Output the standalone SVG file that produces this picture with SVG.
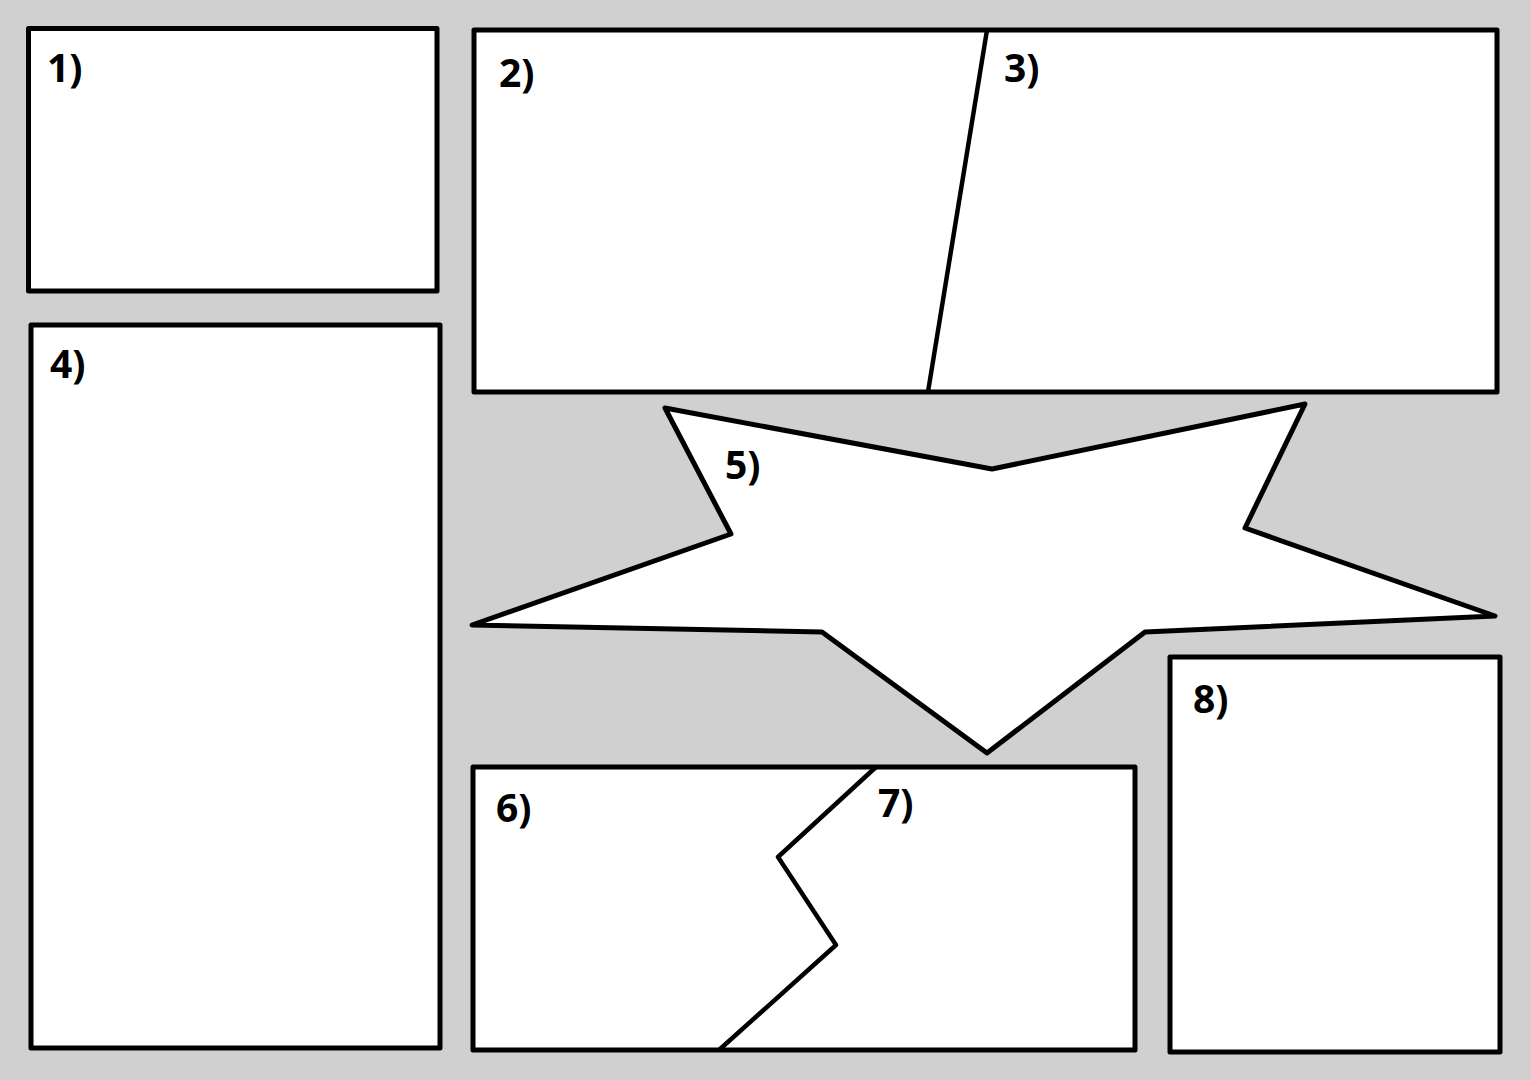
<svg xmlns="http://www.w3.org/2000/svg" width="1531" height="1080" viewBox="0 0 1531 1080">
<style>
.p{fill:#fff;stroke:#000;stroke-width:5;stroke-linejoin:round}
.l{fill:none;stroke:#000;stroke-width:4.5;stroke-linejoin:round}
.t{font-family:"Open Sans","Liberation Sans",sans-serif;font-weight:bold;font-size:39px;fill:#000}
</style>
<rect width="1531" height="1080" fill="#d0d0d0"/>
<g id="panel1"><rect class="p" x="28.5" y="28.5" width="408.5" height="262.5"/><text class="t" x="47" y="82">1)</text></g>
<g id="panel23"><rect class="p" x="474" y="30" width="1023" height="362"/></g>
<g id="panel2"><text class="t" x="499" y="87">2)</text></g>
<g id="panel3"><text class="t" x="1004" y="82">3)</text></g>
<g id="panel4"><rect class="p" x="31" y="325" width="409" height="723"/><text class="t" x="50" y="378">4)</text></g>
<g id="panel5"><polygon class="p" stroke-width="4.5" points="665,408 992,469 1305,404 1245,528 1495,616 1145,632 987,753 822,632 472,625 731,534"/><text class="t" x="725" y="479">5)</text></g>
<g id="panel67"><rect class="p" x="473" y="767" width="662" height="283"/></g>
<g id="panel6"><text class="t" x="496" y="822">6)</text></g>
<g id="panel7"><text class="t" x="878" y="817">7)</text></g>
<g id="panel8"><rect class="p" x="1170" y="657" width="330" height="395"/><text class="t" x="1193" y="713">8)</text></g>
<g id="connectors">
<line class="l" x1="987" y1="30" x2="928" y2="392"/>
<polyline class="l" points="876,767 778,857 836,945 719,1050"/>
</g>
</svg>
